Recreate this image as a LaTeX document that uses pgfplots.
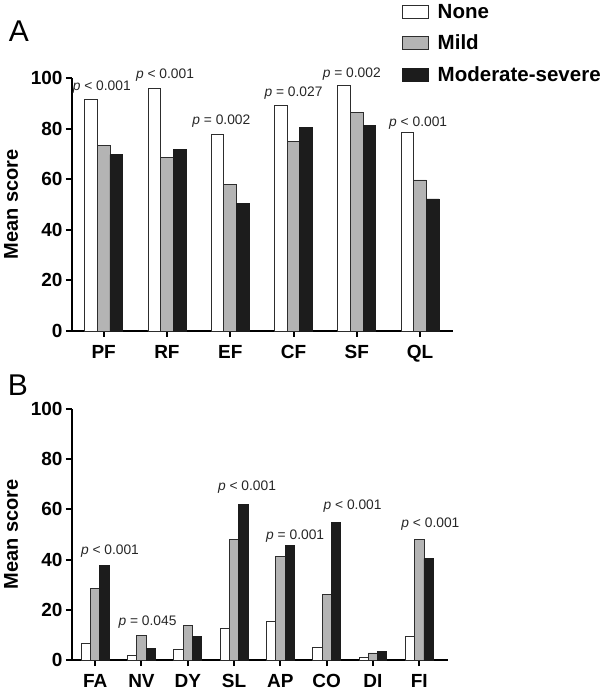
\documentclass[border=0pt]{standalone}
\usepackage{fontspec}
\setmainfont{Liberation Sans}
\usepackage{pgfplots}
\pgfplotsset{compat=1.18}
\definecolor{midgrey}{RGB}{180,180,180}
\definecolor{nearblack}{RGB}{28,28,28}
\definecolor{edgec}{RGB}{45,45,45}
\tikzset{pfont/.style={font=\fontsize{13.8}{14}\selectfont, text=black!85}}
\pgfplotsset{
  panel/.style={
    scale only axis, anchor=south west, clip=false,
    axis lines*=left,
    axis line style={line width=2pt, -},
    every tick/.style={line width=2pt, black},
    tick align=outside, major tick length=6pt,
    ymin=0, ymax=100, ytick={0,20,...,100},
    ybar, bar width=0.2,
    /pgf/number format/assume math mode=true,
    ticklabel style={font=\fontsize{19}{19}\selectfont\bfseries},
    xticklabel style={yshift=-5pt},
    ylabel={Mean score},
    ylabel style={font=\fontsize{20}{20}\selectfont\bfseries, anchor=center},
  },
  nonebar/.style={fill=white, draw=edgec, line width=0.8pt, bar shift=-0.2},
  mildbar/.style={fill=midgrey, draw=edgec, line width=0.8pt, bar shift=0},
  sevbar/.style={fill=nearblack, draw=nearblack, line width=0.8pt, bar shift=0.2},
}
\begin{document}
\begin{tikzpicture}
\useasboundingbox (0,0) rectangle (600pt,691pt);
% Panel A
\begin{axis}[panel, at={(72pt,360pt)}, width=381pt, height=253pt,
  xmin=-0.5, xmax=5.52, xtick={0,...,5},
  xticklabels={PF,RF,EF,CF,SF,QL},
  ylabel style={at={(axis description cs:-0.16,0.5)}},
  legend style={at={(axis description cs:0.866,1.294)}, anchor=north west,
    draw=none, fill=none, font=\fontsize{20.5}{20.5}\selectfont\bfseries,
    row sep=13pt, column sep=9pt, inner sep=0pt, outer sep=0pt,
    nodes={inner sep=0pt, text height=14.5pt, text depth=4pt}},
  legend cell align=left,
  legend image code/.code={\draw[#1] (0pt,-5.5pt) rectangle (26pt,7.5pt);},
]
\addplot[nonebar] coordinates {(0,91.7) (1,95.9) (2,77.7) (3,89.3) (4,97.2) (5,78.4)};
\addplot[mildbar] coordinates {(0,73.2) (1,68.6) (2,57.8) (3,75.0) (4,86.3) (5,59.7)};
\addplot[sevbar] coordinates {(0,69.7) (1,71.9) (2,50.5) (3,80.4) (4,81.4) (5,52.2)};
\legend{None,Mild,Moderate-severe}
\node[pfont] at (axis cs:-0.03,96.4) {\textit{p} < 0.001};
\node[pfont] at (axis cs:0.97,101.2) {\textit{p} < 0.001};
\node[pfont] at (axis cs:1.86,83.0) {\textit{p} = 0.002};
\node[pfont] at (axis cs:3.0,94.1) {\textit{p} = 0.027};
\node[pfont] at (axis cs:3.92,101.6) {\textit{p} = 0.002};
\node[pfont] at (axis cs:4.97,82.1) {\textit{p} < 0.001};
\end{axis}
% Panel B
\begin{axis}[panel, at={(72pt,31pt)}, width=376pt, height=251pt,
  xmin=-0.5, xmax=7.62, xtick={0,...,7},
  xticklabels={FA,NV,DY,SL,AP,CO,DI,FI},
  ylabel style={at={(axis description cs:-0.162,0.5)}},
]
\addplot[nonebar] coordinates {(0,6.6) (1,1.7) (2,4.4) (3,12.6) (4,15.3) (5,5.0) (6,0.9) (7,9.6)};
\addplot[mildbar] coordinates {(0,28.6) (1,9.8) (2,13.8) (3,48.0) (4,41.2) (5,26.2) (6,2.8) (7,48.1)};
\addplot[sevbar] coordinates {(0,37.6) (1,4.6) (2,9.4) (3,62.1) (4,45.5) (5,54.8) (6,3.5) (7,40.4)};
\node[pfont] at (axis cs:0.32,43.2) {\textit{p} < 0.001};
\node[pfont] at (axis cs:1.13,14.9) {\textit{p} = 0.045};
\node[pfont] at (axis cs:3.28,68.9) {\textit{p} < 0.001};
\node[pfont] at (axis cs:4.32,49.5) {\textit{p} = 0.001};
\node[pfont] at (axis cs:5.56,61.4) {\textit{p} < 0.001};
\node[pfont] at (axis cs:7.24,54.1) {\textit{p} < 0.001};
\end{axis}
\node[font=\fontsize{30}{30}\selectfont] at (19pt,660pt) {A};
\node[font=\fontsize{30}{30}\selectfont] at (18pt,306pt) {B};
\end{tikzpicture}
\end{document}
